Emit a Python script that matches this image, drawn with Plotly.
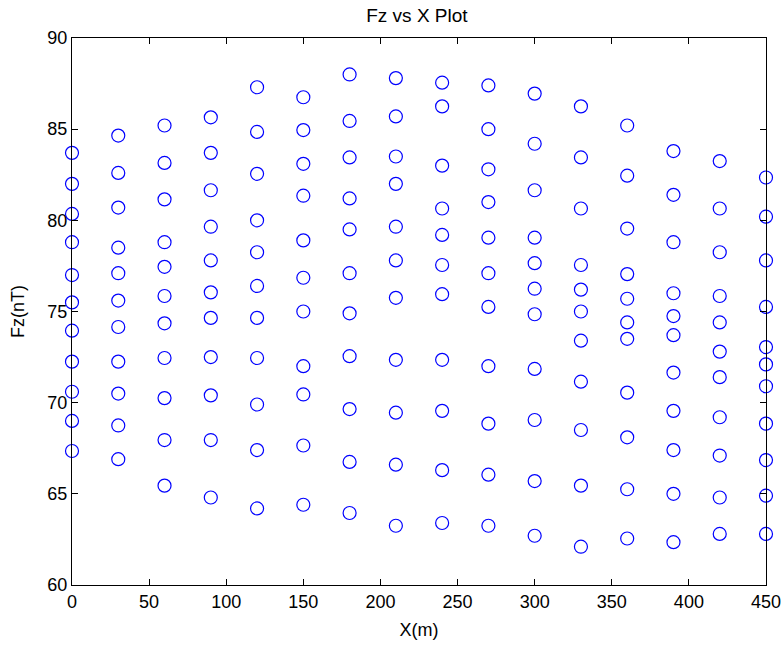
import plotly.graph_objects as go

x_positions = [0, 30, 60, 90, 120, 150, 180, 210, 240, 270, 300, 330, 360, 390, 420, 450]

fz_x0 = [83.7, 82.0, 80.35, 78.8, 77.0, 75.5, 73.95, 72.25, 70.6, 69.0, 67.35]
fz_x30 = [84.65, 82.6, 80.7, 78.5, 77.1, 75.6, 74.15, 72.25, 70.5, 68.75, 66.9]
fz_x60 = [85.2, 83.15, 81.15, 78.8, 77.45, 75.85, 74.35, 72.45, 70.25, 67.95, 65.45]
fz_x90 = [85.65, 83.7, 81.65, 79.65, 77.8, 76.05, 74.65, 72.5, 70.4, 67.95, 64.8]
fz_x120 = [87.3, 84.85, 82.55, 80.0, 78.25, 76.4, 74.65, 72.45, 69.9, 67.4, 64.2]
fz_x150 = [86.75, 84.95, 83.1, 81.35, 78.9, 76.85, 75.0, 72.0, 70.45, 67.65, 64.4]
fz_x180 = [88.0, 85.45, 83.45, 81.2, 79.5, 77.1, 74.9, 72.55, 69.65, 66.75, 63.95]
fz_x210 = [87.8, 85.7, 83.5, 82.0, 79.65, 77.8, 75.75, 72.35, 69.45, 66.6, 63.25]
fz_x240 = [87.55, 86.25, 83.0, 80.65, 79.2, 77.55, 75.95, 72.35, 69.55, 66.3, 63.4]
fz_x270 = [87.4, 85.0, 82.8, 81.0, 79.05, 77.1, 75.25, 72.0, 68.85, 66.05, 63.25]
fz_x300 = [86.95, 84.2, 81.65, 79.05, 77.65, 76.25, 74.85, 71.85, 69.05, 65.7, 62.7]
fz_x330 = [86.25, 83.45, 80.65, 77.55, 76.2, 75.0, 73.4, 71.15, 68.5, 65.45, 62.1]
fz_x360 = [85.2, 82.45, 79.55, 77.05, 75.7, 74.4, 73.5, 70.55, 68.1, 65.25, 62.55]
fz_x390 = [83.8, 81.4, 78.8, 76.0, 74.75, 73.7, 71.65, 69.55, 67.4, 65.0, 62.35]
fz_x420 = [83.25, 80.65, 78.25, 75.85, 74.4, 72.8, 71.4, 69.2, 67.1, 64.8, 62.8]
fz_x450 = [82.35, 80.2, 77.8, 75.25, 73.05, 72.1, 70.9, 68.85, 66.85, 64.9, 62.8]

fz_columns = [fz_x0, fz_x30, fz_x60, fz_x90, fz_x120, fz_x150, fz_x180, fz_x210,
              fz_x240, fz_x270, fz_x300, fz_x330, fz_x360, fz_x390, fz_x420, fz_x450]

x_ticks = [0, 50, 100, 150, 200, 250, 300, 350, 400, 450]
y_ticks = [60, 65, 70, 75, 80, 85, 90]

xs, ys = [], []
for xp, col in zip(x_positions, fz_columns):
    for v in col:
        xs.append(xp)
        ys.append(v)

FONT = "Liberation Sans, Arial, sans-serif"

fig = go.Figure()
fig.add_trace(go.Scatter(
    x=xs, y=ys, mode="markers",
    marker=dict(symbol="circle-open", size=13, color="#0000FF", line=dict(width=1.2, color="#0000FF")),
    cliponaxis=False, showlegend=False,
))

fig.update_layout(
    width=784, height=646,
    margin=dict(l=72, r=18, t=38, b=61, autoexpand=False),
    paper_bgcolor="white", plot_bgcolor="white",
    font=dict(family=FONT, size=18, color="black"),
    title=dict(text="Fz vs X Plot", x=0.497, xref="paper", xanchor="center",
               y=1 - 15 / 646, yref="container", yanchor="middle",
               font=dict(family=FONT, size=19, color="black")),
)
fig.update_xaxes(
    range=[0, 450], tickvals=x_ticks, ticktext=[str(t) for t in x_ticks],
    ticks="inside", ticklen=6, tickcolor="black", tickwidth=1,
    showline=True, linecolor="black", linewidth=1.3, mirror="ticks",
    showgrid=False, zeroline=False, automargin=False,
    tickfont=dict(family=FONT, size=18, color="black"),
    title=dict(text="X(m)", font=dict(family=FONT, size=18, color="black"), standoff=12),
)
fig.update_yaxes(
    range=[60, 90], tickvals=y_ticks, ticktext=[str(t) for t in y_ticks],
    ticks="inside", ticklen=6, tickcolor="black", tickwidth=1,
    showline=True, linecolor="black", linewidth=1.3, mirror="ticks",
    showgrid=False, zeroline=False, automargin=False,
    tickfont=dict(family=FONT, size=18, color="black"),
    title=dict(text="Fz(nT)", font=dict(family=FONT, size=18, color="black"), standoff=17),
)

fig.write_html("out.html")
